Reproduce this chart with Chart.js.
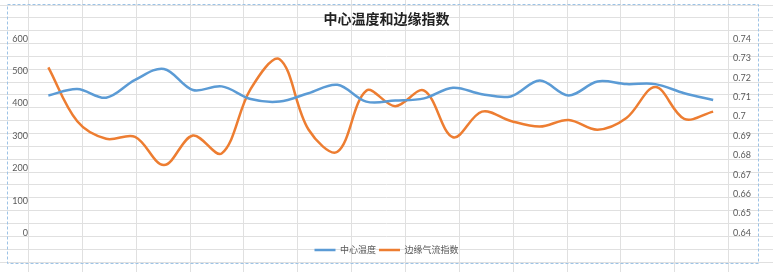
<!DOCTYPE html>
<html lang="zh">
<head>
  <meta charset="UTF-8">
  <title>中心温度和边缘指数</title>
  <style>
    html, body { margin: 0; padding: 0; background: #fff; }
    #wrap { width: 773px; height: 272px; }
  </style>
</head>
<body>
  <div id="wrap"><canvas id="chart"></canvas></div>

  <script src="https://cdn.jsdelivr.net/npm/chart.js@4/dist/chart.umd.min.js"></script>

  <script>
    // 类别（图中没有显示横轴标签）
    const categories = ['1', '2', '3', '4', '5', '6', '7', '8', '9', '10', '11', '12',
      '13', '14', '15', '16', '17', '18', '19', '20', '21', '22', '23', '24']

    // 中心温度（左轴）
    const centerTemp = [425, 445, 418, 473, 507, 442, 453, 414, 406, 432, 458, 406,
      409, 416, 449, 429, 422, 471, 425, 468, 460, 460, 432, 411]

    // 边缘气流指数（右轴）
    const edgeIndex = [0.7253, 0.6975, 0.6885, 0.6895, 0.675, 0.6902, 0.681, 0.7142,
      0.7295, 0.6933, 0.6818, 0.7133, 0.7053, 0.7133, 0.6893, 0.7025,
      0.6977, 0.6948, 0.6982, 0.6932, 0.6992, 0.7152, 0.6988, 0.7025]

    // 左右轴刻度范围
    const leftTicks = { min: 0, max: 600, step: 100 }
    const rightTicks = { min: 0.64, max: 0.74, step: 0.01 }

    const blue = '#5b9bd5'
    const orange = '#ed7d31'
    const numFont = { family: 'Lato, "Noto Sans", sans-serif', size: 9 }
    const cjk = '"Noto Sans CJK SC", "Noto Sans", sans-serif'

    // 画表格背景的格线和图表虚线边框
    const sheetBg = {
      id: 'sheetBg',
      beforeDraw(chart) {
        const c = chart.ctx
        const w = chart.width
        const h = chart.height
        c.save()
        c.fillStyle = '#fff'
        c.fillRect(0, 0, w, h)
        c.strokeStyle = '#e0e0e0'
        c.lineWidth = 1
        c.beginPath()
        for (let k = 0; k <= 13; k++) {
          const x = Math.round(28 + 53.85 * k) + 0.5
          c.moveTo(x, 0)
          c.lineTo(x, h)
        }
        for (let k = 0; k <= 21; k++) {
          const y = Math.round(4.5 + 12.85 * k) + 0.5
          c.moveTo(0, y)
          c.lineTo(w, y)
        }
        c.stroke()
        c.strokeStyle = '#9dc3e6'
        c.setLineDash([3, 2])
        c.strokeRect(7.5, 4.5, 751, 259)
        c.restore()
      }
    }

    new Chart(document.getElementById('chart'), {
      type: 'line',
      data: {
        labels: categories,
        datasets: [
          {
            label: '中心温度',
            data: centerTemp,
            yAxisID: 'y',
            borderColor: blue,
            backgroundColor: blue,
            borderWidth: 2.5,
            pointRadius: 0,
            tension: 0.35
          },
          {
            label: '边缘气流指数',
            data: edgeIndex,
            yAxisID: 'y1',
            borderColor: orange,
            backgroundColor: orange,
            borderWidth: 2.5,
            pointRadius: 0,
            tension: 0.35
          }
        ]
      },
      options: {
        responsive: true,
        maintainAspectRatio: false,
        animation: false,
        layout: { padding: { top: 4, bottom: 7.5, left: 0, right: 0 } },
        plugins: {
          title: {
            display: true,
            text: '中心温度和边缘指数',
            color: '#222',
            font: { family: cjk, size: 14, weight: 'bold' },
            padding: { top: 6, bottom: 12 }
          },
          legend: {
            position: 'bottom',
            labels: {
              usePointStyle: true,
              pointStyle: 'line',
              pointStyleWidth: 21,
              padding: 3,
              color: '#595959',
              font: { family: cjk, size: 9 }
            }
          },
          tooltip: { enabled: false }
        },
        scales: {
          x: {
            offset: true,
            grid: { display: false, drawTicks: false },
            border: { display: false },
            ticks: { display: false },
            afterFit: s => { s.height = 9.5 }
          },
          y: {
            position: 'left',
            min: leftTicks.min,
            max: leftTicks.max,
            grid: { display: false, drawTicks: false },
            border: { display: false },
            ticks: { stepSize: leftTicks.step, padding: 6, color: '#595959', font: numFont },
            afterFit: s => { s.width = 33.9 }
          },
          y1: {
            position: 'right',
            min: rightTicks.min,
            max: rightTicks.max,
            grid: { display: false, drawTicks: false },
            border: { display: false },
            ticks: {
              stepSize: rightTicks.step,
              padding: 5.5,
              color: '#595959',
              font: numFont,
              callback: v => String(parseFloat(v.toFixed(2)))
            },
            afterFit: s => { s.width = 45.4 }
          }
        }
      },
      plugins: [sheetBg]
    })
  </script>
</body>
</html>
